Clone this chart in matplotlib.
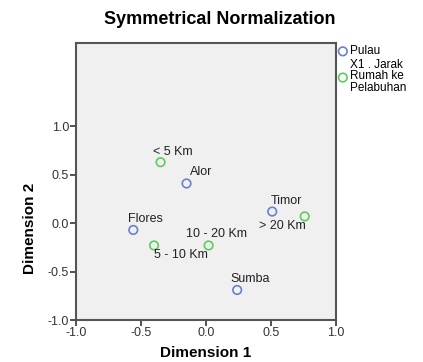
import matplotlib.pyplot as plt

plt.rcParams['font.family'] = ['Liberation Sans', 'DejaVu Sans']

pulau_names = ['Alor', 'Flores', 'Timor', 'Sumba']
pulau_x = [-0.15, -0.56, 0.51, 0.24]
pulau_y = [0.41, -0.07, 0.12, -0.69]

jarak_names = ['< 5 Km', '5 - 10 Km', '10 - 20 Km', '> 20 Km']
jarak_x = [-0.35, -0.40, 0.02, 0.76]
jarak_y = [0.63, -0.23, -0.23, 0.07]

blue = '#6b7fcf'
green = '#5ccc5c'

fig = plt.figure(figsize=(4.23, 3.62), dpi=100)
ax = fig.add_axes([0.18, 0.116, 0.614, 0.765])
ax.set_facecolor('#f0f0f0')

ax.scatter(pulau_x, pulau_y, s=38, facecolors='none', edgecolors=blue,
           linewidths=1.2, label='Pulau')
ax.scatter(jarak_x, jarak_y, s=38, facecolors='none', edgecolors=green,
           linewidths=1.2, label='X1 . Jarak\nRumah ke\nPelabuhan')

# label offsets in pixels (dx, dy, ha)
pulau_off = [(3, 11, 'left'), (-5, 11, 'left'), (-2, 11, 'left'), (-7, 11, 'left')]
jarak_off = [(-8, 10, 'left'), (0, -10, 'left'), (-23, 11, 'left'), (1, -10, 'right')]
for n, x, y, o in zip(pulau_names, pulau_x, pulau_y, pulau_off):
    ax.annotate(n, (x, y), xytext=(o[0], o[1]), textcoords='offset pixels',
                ha=o[2], va='center', fontsize=9, color='#222222')
for n, x, y, o in zip(jarak_names, jarak_x, jarak_y, jarak_off):
    ax.annotate(n, (x, y), xytext=(o[0], o[1]), textcoords='offset pixels',
                ha=o[2], va='center', fontsize=9, color='#222222')

ax.set_xlim(-1.0, 1.0)
ax.set_ylim(-1.0, 1.86)
ax.set_xticks([-1.0, -0.5, 0.0, 0.5, 1.0])
ax.set_yticks([-1.0, -0.5, 0.0, 0.5, 1.0])
ax.set_xticklabels(['-1.0', '-0.5', '0.0', '0.5', '1.0'])
ax.set_yticklabels(['-1.0', '-0.5', '0.0', '0.5', '1.0'])
ax.tick_params(direction='out', length=4, width=1.2, labelsize=9,
               colors='#333333', pad=1)
for sp in ax.spines.values():
    sp.set_color('#555555')
    sp.set_linewidth(1.5)

ax.set_xlabel('Dimension 1', fontsize=11, fontweight='bold', labelpad=5)
ax.set_ylabel('Dimension 2', fontsize=11, fontweight='bold')
ax.yaxis.set_label_coords(-0.15, 0.33)
fig.suptitle('Symmetrical Normalization', fontsize=13, fontweight='bold',
             x=0.52, y=0.97)

leg = ax.legend(loc='upper left', bbox_to_anchor=(0.995, 1.0), frameon=False,
                fontsize=8.5, handletextpad=0.1, borderaxespad=0, handlelength=1,
                labelspacing=0.1, borderpad=0.2)
for t in leg.get_texts():
    t.set_linespacing(0.95)

plt.savefig('out.png', dpi=100)
